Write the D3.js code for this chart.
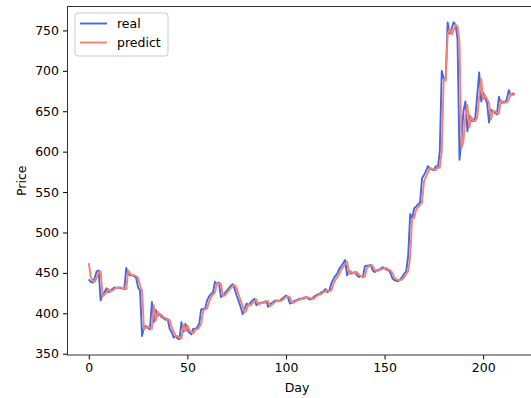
<!DOCTYPE html>
<html>
<head>
  <meta charset="utf-8">
  <script src="https://d3js.org/d3.v7.min.js"></script>
  <style>
    body { margin: 0; background: #fff; }
    svg { display: block; }
    text { font-family: "DejaVu Sans", sans-serif; }
  </style>
</head>
<body>
  <svg id="chart" width="531" height="398"></svg>

  <script>
    // price per day
    const real = [
      442, 439, 438, 444, 452, 453, 416, 424, 426, 431,
      426, 428, 430, 432, 431, 432, 431, 431, 430, 456,
      449, 447, 447, 446, 444, 432, 428, 372, 383, 384,
      382, 380, 414, 389, 404, 397, 399, 395, 394, 392,
      393, 381, 377, 370, 372, 369, 368, 389, 377, 387,
      379, 376, 374, 381, 380, 383, 387, 405, 405, 406,
      416, 421, 424, 426, 439, 436, 438, 420, 422, 425,
      428, 431, 434, 436, 430, 422, 415, 408, 399, 405,
      412, 410, 413, 416, 418, 410, 412, 413, 413, 414,
      415, 408, 411, 413, 415, 416, 415, 416, 418, 420,
      422, 420, 412, 413, 415, 416, 417, 418, 418, 419,
      420, 419, 417, 418, 420, 422, 423, 424, 426, 427,
      430, 426, 428, 437, 442, 446, 449, 455, 458, 462,
      466, 447, 453, 449, 450, 451, 447, 445, 446, 445,
      458, 459, 459, 460, 453, 451, 453, 454, 455, 457,
      456, 454, 453, 450, 443, 441, 440, 440, 442, 445,
      449, 452, 472, 523, 517, 530, 532, 535, 537, 567,
      571, 576, 582, 579, 578, 577, 582, 580, 600, 700,
      690, 690, 760, 746, 752, 760, 757, 740, 590, 615,
      650, 662, 625, 645, 638, 638, 642, 670, 698, 662,
      673, 666, 660, 636, 652, 650, 648, 646, 668, 660,
      662, 661, 665, 676, 670, 672, 671
    ];

    const predict = [
      462, 445, 440, 439, 444, 451, 452, 421, 423, 426,
      430, 427, 428, 430, 432, 431, 432, 431, 431, 430,
      453, 449, 447, 447, 446, 444, 434, 428, 380, 382,
      384, 382, 381, 410, 391, 402, 398, 398, 395, 394,
      392, 392, 383, 378, 372, 372, 370, 369, 386, 378,
      385, 380, 377, 375, 380, 380, 383, 387, 403, 405,
      406, 414, 420, 423, 426, 437, 436, 437, 422, 422,
      425, 428, 431, 434, 435, 431, 423, 416, 409, 401,
      404, 411, 410, 412, 415, 417, 411, 412, 413, 413,
      414, 415, 409, 411, 413, 415, 416, 415, 416, 418,
      420, 421, 420, 413, 413, 415, 416, 417, 418, 418,
      419, 420, 419, 418, 418, 420, 422, 423, 424, 426,
      427, 429, 427, 428, 436, 441, 445, 448, 454, 457,
      461, 464, 449, 452, 449, 450, 451, 448, 446, 446,
      445, 456, 458, 459, 459, 454, 452, 453, 454, 455,
      456, 456, 454, 453, 450, 444, 442, 441, 441, 442,
      445, 449, 452, 470, 518, 518, 528, 531, 534, 537,
      563, 569, 574, 580, 579, 578, 577, 581, 580, 600,
      690, 688, 745, 752, 745, 750, 757, 755, 735, 605,
      612, 645, 658, 630, 643, 638, 638, 642, 668, 690,
      665, 670, 665, 660, 640, 650, 650, 648, 647, 664,
      660, 661, 661, 664, 672, 670, 671
    ];

    const xTicks = [0, 50, 100, 150, 200];
    const yTicks = [350, 400, 450, 500, 550, 600, 650, 700, 750];
    const seriesNames = ["real", "predict"];
    const seriesColors = ["royalblue", "salmon"];

    const svg = d3.select("#chart");
    const margin = { top: 6.5, left: 67.5 };
    const plotWidth = 468.5;
    const plotHeight = 348.5;
    const fontSize = 12.5;

    const plot = svg.append("g")
      .attr("transform", "translate(" + margin.left + "," + margin.top + ")");

    // matplotlib style 5% margins around the data
    const n = real.length - 1;
    const x = d3.scaleLinear()
      .domain([-0.05 * n, n * 1.05])
      .range([0, plotWidth]);

    const all = real.concat(predict);
    const lo = d3.min(all), hi = d3.max(all);
    const pad = (hi - lo) * 0.05;
    const y = d3.scaleLinear()
      .domain([lo - pad, hi + pad])
      .range([plotHeight, 0]);

    const line = d3.line()
      .x((d, i) => x(i))
      .y(d => y(d));

    [real, predict].forEach((s, k) => {
      plot.append("path")
        .datum(s)
        .attr("fill", "none")
        .attr("stroke", seriesColors[k])
        .attr("stroke-width", 1.9)
        .attr("stroke-linejoin", "round")
        .attr("d", line);
    });

    // axes
    const xAxis = plot.append("g")
      .attr("transform", "translate(0," + plotHeight + ")")
      .call(d3.axisBottom(x).tickValues(xTicks).tickSize(4.5).tickPadding(4).tickSizeOuter(0));
    const yAxis = plot.append("g")
      .call(d3.axisLeft(y).tickValues(yTicks).tickSize(4.5).tickPadding(4).tickSizeOuter(0));

    [xAxis, yAxis].forEach(a => {
      a.select(".domain").remove();
      a.selectAll("line").attr("stroke", "#000").attr("stroke-width", 1);
      a.selectAll("text")
        .attr("fill", "#000")
        .style("font-family", "DejaVu Sans")
        .style("font-size", fontSize + "px");
    });

    // frame
    plot.append("rect")
      .attr("width", plotWidth)
      .attr("height", plotHeight)
      .attr("fill", "none")
      .attr("stroke", "#333")
      .attr("stroke-width", 1);

    svg.append("text")
      .attr("x", 297)
      .attr("y", 392)
      .attr("text-anchor", "middle")
      .style("font-size", fontSize + "px")
      .text("Day");

    svg.append("text")
      .attr("transform", "translate(26," + (margin.top + plotHeight / 2) + ") rotate(-90)")
      .attr("text-anchor", "middle")
      .style("font-size", fontSize + "px")
      .text("Price");

    // legend
    const legend = plot.append("g")
      .attr("transform", "translate(7.5,6.5)");
    legend.append("rect")
      .attr("width", 93)
      .attr("height", 43)
      .attr("rx", 3)
      .attr("fill", "#fff")
      .attr("fill-opacity", 0.8)
      .attr("stroke", "#ccc");
    seriesNames.forEach((name, k) => {
      const ly = 10.5 + k * 19;
      legend.append("line")
        .attr("x1", 5).attr("x2", 32)
        .attr("y1", ly).attr("y2", ly)
        .attr("stroke", seriesColors[k])
        .attr("stroke-width", 1.9);
      legend.append("text")
        .attr("x", 42)
        .attr("y", ly)
        .attr("dy", "0.35em")
        .style("font-size", fontSize + "px")
        .text(name);
    });
  </script>
</body>
</html>
